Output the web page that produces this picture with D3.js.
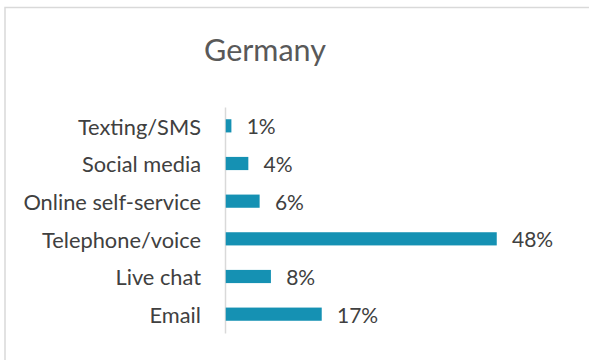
<!DOCTYPE html>
<html>
<head>
<meta charset="utf-8">
<script src="https://cdn.jsdelivr.net/npm/d3@7"></script>
<style>
  html, body { margin: 0; padding: 0; background: #fff; }
  svg { display: block; }
</style>
</head>
<body>
<svg id="chart" width="589" height="360"></svg>
<script>
// Share of preferred contact channel, Germany (percent)
const categories = ["Texting/SMS", "Social media", "Online self-service", "Telephone/voice", "Live chat", "Email"];
const values = [1, 4, 6, 48, 8, 17];
const title = "Germany";

const fontFamily = "Lato, 'Open Sans', sans-serif";
const barColor = "#1591b3";
const textColor = "#404040";

const svg = d3.select("#chart");

// chart-area frame
svg.append("rect")
  .attr("x", 5).attr("y", 7.5)
  .attr("width", 620).attr("height", 400)
  .attr("fill", "#fff")
  .attr("stroke", "#d9d9d9")
  .attr("stroke-width", 1.5);

// title
svg.append("text")
  .attr("x", 265).attr("y", 61)
  .attr("text-anchor", "middle")
  .attr("font-family", fontFamily)
  .attr("font-size", 30.5)
  .attr("fill", "#595959")
  .text(title);

const plot = { left: 225, top: 107, bottom: 333 };

const y = d3.scaleBand()
  .domain(categories)
  .range([plot.top, plot.bottom])
  .paddingInner(0.65)
  .paddingOuter(0.325);

const x = d3.scaleLinear()
  .domain([0, 48])
  .range([plot.left, 496]);

// category axis (left), line only, no ticks
const yAxis = d3.axisLeft(y).tickSize(0).tickPadding(24);
const gy = svg.append("g")
  .attr("transform", `translate(${plot.left},0)`)
  .call(yAxis);
gy.select(".domain").attr("stroke", "#d9d9d9").attr("stroke-width", 1.5);
gy.selectAll(".tick text")
  .attr("font-family", fontFamily)
  .attr("font-size", 21.8)
  .attr("fill", textColor)
  .attr("dy", "0.4em");

// bars
svg.append("g").selectAll("rect")
  .data(categories)
  .join("rect")
  .attr("x", x(0) + 0.75)
  .attr("y", d => y(d))
  .attr("width", (d, i) => x(values[i]) - x(0))
  .attr("height", y.bandwidth())
  .attr("fill", barColor);

// value labels
svg.append("g").selectAll("text")
  .data(categories)
  .join("text")
  .attr("x", (d, i) => x(values[i]) + 16)
  .attr("y", d => y(d) + y.bandwidth() / 2)
  .attr("dy", "0.4em")
  .attr("font-family", fontFamily)
  .attr("font-size", 21)
  .attr("fill", textColor)
  .text((d, i) => values[i] + "%");
</script>
</body>
</html>
